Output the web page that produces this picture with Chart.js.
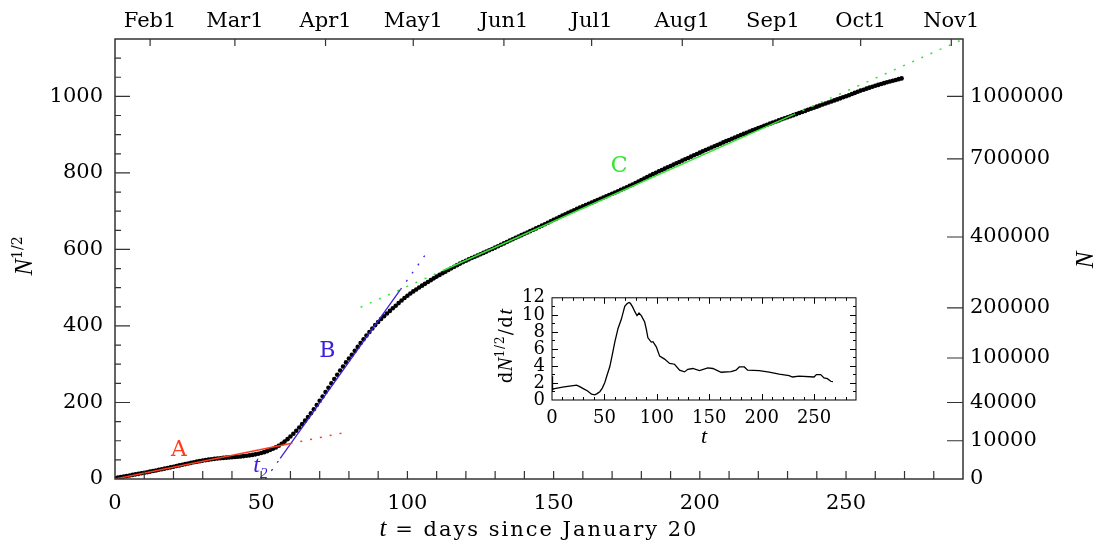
<!DOCTYPE html>
<html>
<head>
<meta charset="utf-8">
<script src="https://cdn.jsdelivr.net/npm/chart.js@4.4.0/dist/chart.umd.min.js"></script>
<style>
  html, body { margin: 0; padding: 0; background: #fff; }
  #wrap { position: relative; width: 1096px; height: 544px; }
  #main { position: absolute; left: 0; top: 0; }
  #inset { position: absolute; left: 460px; top: 280px; }
</style>
</head>
<body>
<div id="wrap">
  <canvas id="main" width="1096" height="544"></canvas>
  <canvas id="inset" width="420" height="170"></canvas>
</div>
<script>
// square root of cumulative count, one value per day from January 20 (t = 0 .. 269)
var sqrtN = [
  2.0, 4.0, 5.3, 6.6, 7.9, 9.3, 10.7, 12.1, 13.5, 14.9, 16.3,
  17.8, 19.3, 20.8, 22.4, 24.0, 25.6, 27.2, 28.8, 30.4, 32.1,
  33.8, 35.5, 37.2, 38.9, 40.6, 42.2, 43.8, 45.3, 46.7, 48.1,
  49.4, 50.6, 51.7, 52.7, 53.6, 54.4, 55.1, 55.8, 56.4, 57.0,
  57.6, 58.3, 59.0, 59.8, 60.7, 61.8, 63.0, 64.4, 66.0, 67.9,
  70.2, 72.8, 75.7, 78.9, 82.6, 87.0, 92.0, 97.8, 104.2, 111.0,
  118.3, 126.2, 134.6, 143.4, 152.5, 162.0, 172.0, 182.4, 193.3, 204.4,
  215.7, 227.1, 238.5, 250.0, 261.3, 272.5, 283.4, 294.2, 304.7, 314.9,
  324.9, 335.0, 345.2, 355.3, 365.2, 374.8, 384.3, 393.5, 402.2, 410.4,
  418.2, 425.5, 432.5, 439.4, 446.2, 453.0, 459.8, 466.5, 472.9, 479.0,
  484.8, 490.3, 495.4, 500.4, 505.3, 510.1, 514.9, 519.7, 524.4, 529.0,
  533.4, 537.7, 542.0, 546.3, 550.5, 554.7, 558.9, 563.0, 566.9, 570.6,
  574.1, 577.6, 581.0, 584.3, 587.6, 590.9, 594.3, 597.7, 601.2, 604.8,
  608.4, 612.1, 615.8, 619.5, 623.2, 626.8, 630.4, 633.9, 637.4, 640.9,
  644.4, 647.9, 651.4, 655.0, 658.6, 662.3, 666.0, 669.8, 673.6, 677.3,
  681.0, 684.7, 688.4, 692.0, 695.6, 699.1, 702.5, 705.9, 709.2, 712.5,
  715.8, 719.0, 722.3, 725.6, 728.9, 732.2, 735.5, 738.8, 742.1, 745.4,
  748.8, 752.2, 755.6, 759.0, 762.5, 766.1, 769.8, 773.6, 777.5, 781.4,
  785.3, 789.2, 793.1, 796.9, 800.6, 804.2, 807.7, 811.2, 814.7, 818.2,
  821.7, 825.2, 828.7, 832.2, 835.6, 839.1, 842.5, 846.0, 849.4, 852.9,
  856.3, 859.7, 863.1, 866.5, 869.8, 873.1, 876.4, 879.7, 883.0, 886.2,
  889.4, 892.6, 895.8, 898.9, 902.0, 905.1, 908.1, 911.1, 914.1, 917.1,
  920.0, 923.0, 925.9, 928.8, 931.7, 934.5, 937.3, 940.1, 942.8, 945.5,
  948.2, 951.0, 953.7, 956.5, 959.3, 962.1, 964.9, 967.7, 970.4, 973.2,
  975.9, 978.7, 981.4, 984.1, 986.8, 989.5, 992.2, 994.9, 997.6, 1000.3,
  1003.1, 1006.1, 1009.1, 1012.1, 1015.1, 1017.5, 1020.2, 1022.8, 1025.3, 1027.7,
  1030.0, 1032.3, 1034.6, 1036.8, 1038.9, 1041.0, 1043.0, 1045.0, 1047.0
];
var days = sqrtN.map(function (v, i) { return i; });

// straight-line fits (t, N^1/2 at the segment ends)
var fitAT = [0, 60, 80];
var fitAV = [0, 92.7, 123.6];
var fitBT = [51.5, 56.5, 97.6, 107.5];
var fitBV = [0, 53.7, 494.7, 600.9];
var fitCT = [84, 112, 232, 290];
var fitCV = [449, 544.2, 952.2, 1149.4];

// inset: dN^1/2/dt
var rateT = [0, 0.5, 1.5, 5, 10, 15, 20.3, 23.4, 26, 29.8, 34, 37.7, 40.9, 43, 45.6, 48, 50.4, 52.5,
  55.1, 57.5, 59.9, 63, 66.2, 69.4, 71.5, 73.5, 74.8, 77, 78.9, 81.1, 83, 85.2, 88.4, 90, 91.5,
  94.7, 96.3, 99.5, 102.7, 107.4, 112.2, 116.9, 121.7, 126.4, 129.6, 134.3, 140.7, 148.6, 153.4,
  161.3, 170.8, 175.5, 178.7, 183.5, 186.6, 197.7, 207.2, 216.7, 226.2, 229.4, 235.7, 250, 252.2,
  256.3, 259.5, 262.7, 265.9, 268];
var rateV = [2.8, 1.2, 1.3, 1.4, 1.5, 1.6, 1.7, 1.75, 1.6, 1.34, 1.05, 0.68, 0.6, 0.75, 0.97, 1.4, 2.06, 2.9,
  3.9, 5.3, 6.8, 8.4, 9.5, 11.0, 11.3, 11.45, 11.35, 10.9, 10.4, 9.9, 10.2, 9.9, 9.15, 8.3, 7.3,
  6.8, 6.85, 6.25, 5.15, 4.8, 4.3, 4.2, 3.5, 3.3, 3.6, 3.7, 3.45, 3.77, 3.7,
  3.26, 3.33, 3.5, 3.88, 3.88, 3.5, 3.45, 3.27, 3.05, 2.87, 2.7, 2.8, 2.7, 2.98,
  2.98, 2.6, 2.5, 2.2, 2.15];

// ticks
var xTicks = [0, 50, 100, 150, 200, 250];
var yTicks = [0, 200, 400, 600, 800, 1000];
var monthDays = [12, 41, 72, 102, 133, 163, 194, 225, 255, 286];
var monthLabels = ['Feb1', 'Mar1', 'Apr1', 'May1', 'Jun1', 'Jul1', 'Aug1', 'Sep1', 'Oct1', 'Nov1'];
var nTicks = [0, 10000, 40000, 100000, 200000, 400000, 700000, 1000000];
var insetXTicks = [0, 50, 100, 150, 200, 250];
var insetYTicks = [0, 2, 4, 6, 8, 10, 12];

var FONT = "'DejaVu Serif', 'Liberation Serif', serif";
var ITAL = "'Liberation Serif', 'DejaVu Serif', serif";
var RED = '#ff3c1e', BLUE = '#3c20e0', GREEN = '#33e633';
var DOT = [2, 8];

function setTicks(values) {
  return function (scale) { scale.ticks = values.map(function (v) { return { value: v }; }); };
}
function fixWidth(w) { return function (scale) { scale.width = w; }; }
function fixHeight(h) { return function (scale) { scale.height = h; }; }
function pairs(xs, ys) { return xs.map(function (x, i) { return { x: x, y: ys[i] }; }); }

// draws mixed-font text centred on (x, y) baseline, optionally rotated
function drawRuns(ctx, runs, x, y, angle, align) {
  ctx.save();
  ctx.translate(x, y);
  ctx.rotate(angle || 0);
  ctx.textBaseline = 'alphabetic';
  ctx.textAlign = 'left';
  var total = 0;
  runs.forEach(function (r) {
    ctx.font = r.font; ctx.letterSpacing = r.spacing || '0px';
    total += ctx.measureText(r.text).width;
  });
  var cx = align === 'left' ? 0 : -total / 2;
  runs.forEach(function (r) {
    ctx.font = r.font; ctx.letterSpacing = r.spacing || '0px';
    ctx.fillStyle = r.color || '#000';
    ctx.fillText(r.text, cx, r.dy || 0);
    cx += ctx.measureText(r.text).width;
  });
  ctx.restore();
}

function axisTicks(opts) {
  return {
    type: 'linear', position: opts.position, min: opts.min, max: opts.max,
    afterBuildTicks: setTicks(opts.values),
    afterFit: opts.width ? fixWidth(opts.width) : fixHeight(opts.height),
    grid: { display: false, drawTicks: false },
    border: { display: false },
    ticks: {
      font: { family: FONT, size: opts.size || 21 }, color: '#000',
      padding: opts.padding, maxRotation: 0, autoSkip: false,
      callback: opts.callback || function (v) { return String(v); }
    }
  };
}

var mainFrame = {
  id: 'mainFrame',
  afterDatasetsDraw: function (chart) {
    var ctx = chart.ctx, s = chart.scales;
    function px(t) { return s.x.getPixelForValue(t); }
    function py(v) { return s.y.getPixelForValue(v); }
    ctx.save();
    ctx.textAlign = 'center';
    ctx.textBaseline = 'middle';
    ctx.font = '22px ' + FONT;
    ctx.fillStyle = RED; ctx.fillText('A', px(21.9), py(74));
    ctx.fillStyle = BLUE; ctx.fillText('B', px(72.6), py(334));
    ctx.fillStyle = GREEN; ctx.fillText('C', px(172.4), py(817));
    ctx.restore();
    drawRuns(ctx, [
      { text: 't', font: 'italic 24px ' + ITAL, color: BLUE },
      { text: '2', font: 'italic 15px ' + ITAL, color: BLUE, dy: 6 }
    ], px(47.3), py(19.5), 0, 'left');
  },
  afterDraw: function (chart) {
    var ctx = chart.ctx, a = chart.chartArea, s = chart.scales;
    ctx.save();
    ctx.strokeStyle = '#333';
    ctx.lineWidth = 1.5;
    ctx.strokeRect(a.left, a.top, a.right - a.left, a.bottom - a.top);
    ctx.lineWidth = 1.2;
    ctx.beginPath();
    var t, v;
    for (t = 10; t < 290; t += 10) {
      var x = s.x.getPixelForValue(t);
      ctx.moveTo(x, a.bottom); ctx.lineTo(x, a.bottom - 8);
    }
    for (v = 50; v < 1150; v += 50) {
      var y = s.y.getPixelForValue(v);
      ctx.moveTo(a.left, y); ctx.lineTo(a.left + (v % 200 === 0 ? 15 : 6), y);
    }
    monthDays.forEach(function (d) {
      var x = s.xTop.getPixelForValue(d);
      ctx.moveTo(x, a.top); ctx.lineTo(x, a.top + 7);
    });
    nTicks.forEach(function (n) {
      if (n === 0) return;
      var y = s.yN.getPixelForValue(Math.sqrt(n));
      ctx.moveTo(a.right, y); ctx.lineTo(a.right - 16, y);
    });
    ctx.stroke();
    ctx.restore();

    drawRuns(ctx, [
      { text: 't', font: 'italic 25px ' + ITAL },
      { text: ' = days since January 20', font: '21px ' + FONT, spacing: '2px' }
    ], (a.left + a.right) / 2, 536, 0);
    drawRuns(ctx, [
      { text: 'N', font: 'italic 25px ' + ITAL },
      { text: '1/2', font: '14px ' + FONT, dy: -10 }
    ], 32, 256, -Math.PI / 2);
    drawRuns(ctx, [{ text: 'N', font: 'italic 25px ' + ITAL }], 1093, 260, -Math.PI / 2);
  }
};

new Chart(document.getElementById('main'), {
  type: 'scatter',
  data: {
    datasets: [
      {
        data: pairs(fitAT, fitAV), showLine: true, borderColor: RED, borderWidth: 1.5,
        pointRadius: 0, segment: { borderDash: function (c) { return c.p0DataIndex === 1 ? DOT : []; } }
      },
      {
        data: pairs(fitBT, fitBV), showLine: true, borderColor: BLUE, borderWidth: 1.3,
        pointRadius: 0, segment: { borderDash: function (c) { return c.p0DataIndex === 1 ? [] : DOT; } }
      },
      {
        data: pairs(fitCT, fitCV), showLine: true, borderColor: GREEN, borderWidth: 1.5,
        pointRadius: 0, segment: { borderDash: function (c) { return c.p0DataIndex === 1 ? [] : DOT; } }
      },
      {
        data: pairs(days, sqrtN), showLine: false, pointRadius: 2.3,
        pointBackgroundColor: '#000', pointBorderWidth: 0
      }
    ]
  },
  options: {
    responsive: false,
    animation: false,
    layout: { padding: 0 },
    plugins: { legend: { display: false }, tooltip: { enabled: false } },
    scales: {
      x: axisTicks({ position: 'bottom', min: 0, max: 290, values: xTicks, height: 65, padding: 12 }),
      xTop: axisTicks({
        position: 'top', min: 0, max: 290, values: monthDays, height: 39, padding: 5,
        callback: function (v, i) { return monthLabels[i]; }
      }),
      y: axisTicks({ position: 'left', min: 0, max: 1150, values: yTicks, width: 115, padding: 12 }),
      yN: axisTicks({
        position: 'right', min: 0, max: 1150, values: nTicks.map(Math.sqrt), width: 133, padding: 7,
        callback: function (v, i) { return String(nTicks[i]); }
      })
    }
  },
  plugins: [mainFrame]
});

var insetFrame = {
  id: 'insetFrame',
  afterDraw: function (chart) {
    var ctx = chart.ctx, a = chart.chartArea, s = chart.scales;
    ctx.save();
    ctx.strokeStyle = '#000';
    ctx.lineWidth = 1;
    ctx.strokeRect(a.left, a.top, a.right - a.left, a.bottom - a.top);
    ctx.beginPath();
    var t, v;
    for (t = 10; t < 290; t += 10) {
      var x = Math.round(s.x.getPixelForValue(t)) + 0.5, len = t % 50 === 0 ? 6 : 3;
      ctx.moveTo(x, a.bottom); ctx.lineTo(x, a.bottom - len);
      ctx.moveTo(x, a.top); ctx.lineTo(x, a.top + len);
    }
    for (v = 1; v < 12; v += 1) {
      var y = Math.round(s.y.getPixelForValue(v)) + 0.5, ln = v % 2 === 0 ? 6 : 3;
      ctx.moveTo(a.left, y); ctx.lineTo(a.left + ln, y);
      ctx.moveTo(a.right, y); ctx.lineTo(a.right - ln, y);
    }
    ctx.stroke();
    ctx.restore();

    drawRuns(ctx, [
      { text: 'd', font: '18px ' + FONT },
      { text: 'N', font: 'italic 21px ' + ITAL },
      { text: '1/2', font: '12px ' + FONT, dy: -8, spacing: '1px' },
      { text: '/d', font: '18px ' + FONT, spacing: '1.5px' },
      { text: 't', font: 'italic 21px ' + ITAL }
    ], 52, 66, -Math.PI / 2);
    drawRuns(ctx, [{ text: 't', font: 'italic 22px ' + ITAL }], (a.left + a.right) / 2, 163, 0);
  }
};

new Chart(document.getElementById('inset'), {
  type: 'scatter',
  data: {
    datasets: [{
      data: pairs(rateT, rateV), showLine: true, borderColor: '#000', borderWidth: 1.3,
      pointRadius: 0, tension: 0
    }]
  },
  options: {
    responsive: false,
    animation: false,
    layout: { padding: { top: 11, right: 24, left: 0, bottom: 0 } },
    plugins: { legend: { display: false }, tooltip: { enabled: false } },
    scales: {
      x: axisTicks({ position: 'bottom', min: 0, max: 290, values: insetXTicks, height: 50, padding: 8, size: 18 }),
      y: axisTicks({ position: 'left', min: 0, max: 12, values: insetYTicks, width: 92, padding: 7, size: 18 })
    }
  },
  plugins: [insetFrame]
});
</script>
</body>
</html>
